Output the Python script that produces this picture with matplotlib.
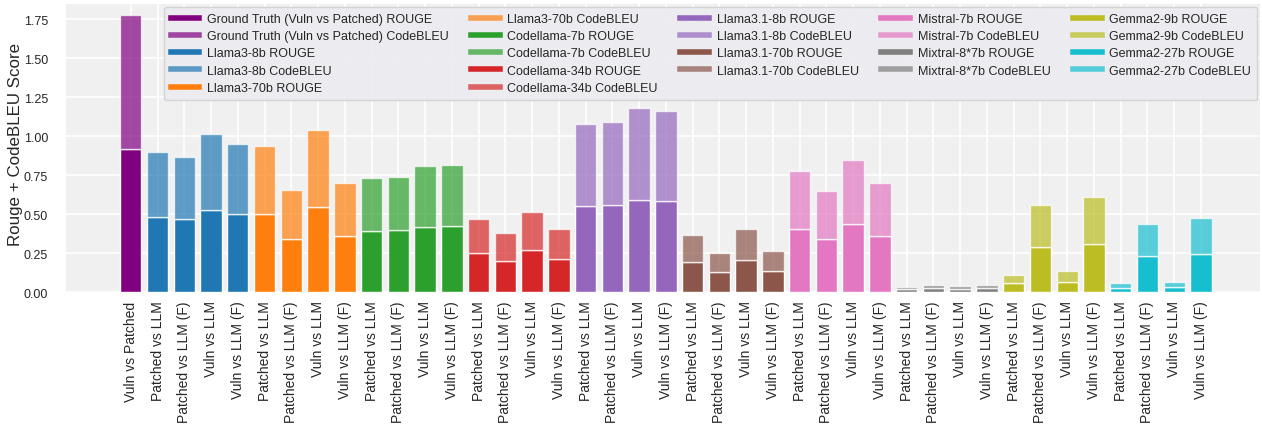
import matplotlib
matplotlib.use("Agg")
import matplotlib.pyplot as plt
from matplotlib.lines import Line2D
import numpy as np

plt.rcParams['font.family'] = ['Liberation Sans', 'DejaVu Sans']

models = ["Llama3-8b", "Llama3-70b", "Codellama-7b", "Codellama-34b",
          "Llama3.1-8b", "Llama3.1-70b", "Mistral-7b", "Mixtral-8*7b",
          "Gemma2-9b", "Gemma2-27b"]
comparisons = ["Patched vs LLM", "Patched vs LLM (F)", "Vuln vs LLM", "Vuln vs LLM (F)"]
colors = ["tab:blue", "tab:orange", "tab:green", "tab:red", "tab:purple",
          "tab:brown", "tab:pink", "tab:gray", "tab:olive", "tab:cyan"]

gt_label = "Vuln vs Patched"
gt_rouge = 0.916
gt_codebleu = 0.862

# ROUGE per model (Patched vs LLM, Patched vs LLM (F), Vuln vs LLM, Vuln vs LLM (F))
rouge = [
    [0.479, 0.467, 0.529, 0.503],
    [0.501, 0.343, 0.544, 0.362],
    [0.394, 0.396, 0.420, 0.424],
    [0.250, 0.201, 0.272, 0.214],
    [0.552, 0.556, 0.593, 0.584],
    [0.193, 0.128, 0.208, 0.133],
    [0.407, 0.340, 0.437, 0.360],
    [0.017, 0.024, 0.019, 0.026],
    [0.056, 0.291, 0.067, 0.311],
    [0.024, 0.231, 0.032, 0.246],
]
# CodeBLEU per model
codebleu = [
    [0.422, 0.402, 0.483, 0.447],
    [0.439, 0.314, 0.496, 0.338],
    [0.338, 0.345, 0.387, 0.394],
    [0.217, 0.180, 0.244, 0.193],
    [0.529, 0.535, 0.586, 0.576],
    [0.175, 0.120, 0.196, 0.133],
    [0.368, 0.306, 0.408, 0.338],
    [0.015, 0.021, 0.018, 0.021],
    [0.056, 0.267, 0.066, 0.299],
    [0.032, 0.204, 0.032, 0.227],
]

fig = plt.figure(figsize=(12.62, 4.31), dpi=100)
ax = fig.add_axes([0.0523, 0.320, 0.946, 0.668])
ax.set_facecolor('#f0f0f0')
ax.grid(True, color='white', linewidth=1.2)
ax.set_axisbelow(True)
for s in ax.spines.values():
    s.set_visible(False)

labels = [gt_label]
x = 0
ax.bar(x, gt_rouge, width=0.8, color='purple', edgecolor='white', linewidth=1)
ax.bar(x, gt_codebleu, bottom=gt_rouge, width=0.8, color='purple', alpha=0.7,
       edgecolor='white', linewidth=1)
handles = [Line2D([0], [0], color='purple', lw=4),
           Line2D([0], [0], color='purple', lw=4, alpha=0.7)]
hlabels = ["Ground Truth (Vuln vs Patched) ROUGE", "Ground Truth (Vuln vs Patched) CodeBLEU"]

for i, m in enumerate(models):
    for j, c in enumerate(comparisons):
        x += 1
        labels.append(c)
        ax.bar(x, rouge[i][j], width=0.8, color=colors[i], edgecolor='white', linewidth=1)
        ax.bar(x, codebleu[i][j], bottom=rouge[i][j], width=0.8, color=colors[i],
               alpha=0.7, edgecolor='white', linewidth=1)
    handles.append(Line2D([0], [0], color=colors[i], lw=4))
    handles.append(Line2D([0], [0], color=colors[i], lw=4, alpha=0.7))
    hlabels.append(f"{m} ROUGE")
    hlabels.append(f"{m} CodeBLEU")

ax.set_xticks(range(len(labels)))
ax.set_xticklabels(labels, rotation=90, fontsize=10, color='#262626')
ax.tick_params(axis='x', length=0, pad=6)
ax.tick_params(axis='y', length=0, pad=13, labelsize=9, labelcolor='#262626')
ax.set_xlim(-2.42, 42.2)
ax.set_ylim(0, 1.847)
ax.set_yticks([0, 0.25, 0.5, 0.75, 1.0, 1.25, 1.5, 1.75])
ax.set_yticklabels([f"{v:.2f}" for v in [0, 0.25, 0.5, 0.75, 1.0, 1.25, 1.5, 1.75]])
ax.set_ylabel("Rouge + CodeBLEU Score", fontsize=12.2, color='#262626')
ax.yaxis.set_label_coords(-0.036, 0.517)

leg = ax.legend(handles, hlabels, ncol=5, loc='upper right', fontsize=9,
                facecolor='#ececf0', edgecolor='#d0d0d0', framealpha=0.9,
                handlelength=2.3, handletextpad=0.6, columnspacing=1.8,
                borderaxespad=0.2, labelspacing=0.42, borderpad=0.5)
for t in leg.get_texts():
    t.set_color('#262626')

fig.savefig("out.png", dpi=100)
